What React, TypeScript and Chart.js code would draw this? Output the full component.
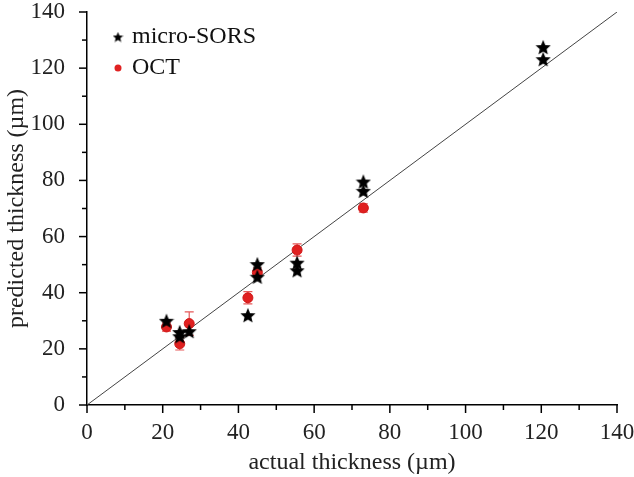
import React, { useEffect, useRef } from "react";
import { Chart, registerables } from "chart.js";

Chart.register(...registerables);

// micro-SORS predictions
const sorsX = [21, 24.5, 24.5, 27, 42.5, 45, 45, 55.5, 55.5, 73, 73, 120.5, 120.5];
const sorsY = [30, 26, 24.5, 26.3, 32, 50.2, 45.7, 50.7, 48, 79.6, 76.3, 127.5, 123.2];

// OCT predictions with error
const octX = [21, 24.5, 27, 42.5, 45, 55.5, 73];
const octY = [27.8, 21.8, 29, 38.2, 47.2, 55.2, 70.2];
const octErr = [1.5, 2.2, 4.2, 2.2, 1.6, 2.2, 1.5];

const identityX = [0, 140];
const identityY = [0, 140];

const majorTicks = [0, 20, 40, 60, 80, 100, 120, 140];

const FONT = "'Liberation Serif', 'Times New Roman', serif";

function makeStar(size: number): HTMLCanvasElement {
  const c = document.createElement("canvas");
  c.width = size;
  c.height = size;
  const g = c.getContext("2d")!;
  const cx = size / 2;
  const cy = size / 2 + size * 0.05;
  const R = size / 2;
  const r = R * 0.45;
  g.beginPath();
  for (let i = 0; i < 10; i++) {
    const ang = -Math.PI / 2 + (i * Math.PI) / 5;
    const rad = i % 2 === 0 ? R : r;
    const px = cx + rad * Math.cos(ang);
    const py = cy + rad * Math.sin(ang);
    if (i === 0) g.moveTo(px, py);
    else g.lineTo(px, py);
  }
  g.closePath();
  g.fillStyle = "#000";
  g.fill();
  return c;
}

export default function App() {
  const ref = useRef<HTMLCanvasElement>(null);

  useEffect(() => {
    document.body.style.margin = "0";
    const star = makeStar(16);
    const legendStar = makeStar(11);

    const errorBars = {
      id: "errorBars",
      beforeDatasetsDraw(chart: any) {
        const ctx = chart.ctx;
        const xs = chart.scales.x;
        const ys = chart.scales.y;
        ctx.save();
        ctx.strokeStyle = "rgba(225,60,60,0.85)";
        ctx.lineWidth = 1.2;
        octX.forEach((xv, i) => {
          const px = xs.getPixelForValue(xv);
          const top = ys.getPixelForValue(octY[i] + octErr[i]);
          const bot = ys.getPixelForValue(octY[i] - octErr[i]);
          ctx.beginPath();
          ctx.moveTo(px, top);
          ctx.lineTo(px, bot);
          ctx.moveTo(px - 4.5, top);
          ctx.lineTo(px + 4.5, top);
          ctx.moveTo(px - 4.5, bot);
          ctx.lineTo(px + 4.5, bot);
          ctx.stroke();
        });
        ctx.restore();
      },
    };

    const axisTicks = {
      id: "axisTicks",
      afterDraw(chart: any) {
        const ctx = chart.ctx;
        const xs = chart.scales.x;
        const ys = chart.scales.y;
        const ca = chart.chartArea;
        ctx.save();
        ctx.strokeStyle = "#000";
        ctx.lineWidth = 1.5;
        for (let v = 0; v <= 140; v += 10) {
          const major = v % 20 === 0;
          const px = xs.getPixelForValue(v);
          ctx.beginPath();
          ctx.moveTo(px, ca.bottom);
          ctx.lineTo(px, ca.bottom + (major ? 8 : 5));
          ctx.stroke();
          const py = ys.getPixelForValue(v);
          ctx.beginPath();
          ctx.moveTo(ca.left, py);
          ctx.lineTo(ca.left - (major ? 8 : 5), py);
          ctx.stroke();
        }
        // legend
        ctx.drawImage(legendStar, 112.5, 31.5);
        ctx.fillStyle = "#e02222";
        ctx.beginPath();
        ctx.arc(118, 68, 3.5, 0, Math.PI * 2);
        ctx.fill();
        ctx.fillStyle = "#111";
        ctx.font = `24px ${FONT}`;
        ctx.textBaseline = "middle";
        ctx.textAlign = "left";
        ctx.fillText("micro-SORS", 132, 37);
        ctx.fillText("OCT", 132, 68);
        ctx.restore();
      },
    };

    const chart = new Chart(ref.current!, {
      type: "scatter",
      data: {
        datasets: [
          {
            label: "micro-SORS",
            data: sorsX.map((x, i) => ({ x, y: sorsY[i] })),
            pointStyle: star as any,
            pointRadius: 8,
          },
          {
            label: "OCT",
            data: octX.map((x, i) => ({ x, y: octY[i] })),
            pointStyle: "circle",
            pointRadius: 5,
            backgroundColor: "#e02020",
            borderColor: "#d01818",
            borderWidth: 1,
          },
          {
            type: "line",
            label: "y = x",
            data: identityX.map((x, i) => ({ x, y: identityY[i] })),
            borderColor: "#444",
            borderWidth: 1,
            pointRadius: 0,
            fill: false,
          } as any,
        ],
      },
      options: {
        responsive: false,
        animation: false,
        layout: { padding: { top: 12, right: 17, left: 0, bottom: 0 } },
        plugins: {
          legend: { display: false },
          tooltip: { enabled: false },
        },
        scales: {
          x: {
            type: "linear",
            min: 0,
            max: 140,
            grid: { display: false },
            border: { display: true, color: "#000", width: 1.5 },
            afterBuildTicks: (scale: any) => {
              scale.ticks = majorTicks.map((v) => ({ value: v }));
            },
            afterFit: (scale: any) => {
              scale.height = 72;
              scale.paddingLeft = 0;
              scale.paddingRight = 0;
            },
            ticks: {
              color: "#222",
              font: { family: FONT, size: 23 },
              padding: 6,
              maxRotation: 0,
            },
            title: {
              display: true,
              text: "actual thickness (µm)",
              color: "#222",
              font: { family: FONT, size: 24 },
              padding: { top: 0, bottom: 0 },
            },
          },
          y: {
            type: "linear",
            min: 0,
            max: 140,
            grid: { display: false },
            border: { display: true, color: "#000", width: 1.5 },
            afterBuildTicks: (scale: any) => {
              scale.ticks = majorTicks.map((v) => ({ value: v }));
            },
            afterFit: (scale: any) => {
              scale.width = 87;
              scale.paddingTop = 0;
              scale.paddingBottom = 0;
            },
            ticks: {
              color: "#222",
              font: { family: FONT, size: 23 },
              padding: 14,
            },
            title: {
              display: true,
              text: "predicted thickness (µm)",
              color: "#222",
              font: { family: FONT, size: 24 },
              padding: { top: 2, bottom: 0 },
            },
          },
        },
      },
      plugins: [errorBars, axisTicks],
    });
    return () => chart.destroy();
  }, []);

  return (
    <div style={{ position: "absolute", left: 0, top: 0, width: 634, height: 477 }}>
      <canvas ref={ref} width={634} height={477} />
    </div>
  );
}
